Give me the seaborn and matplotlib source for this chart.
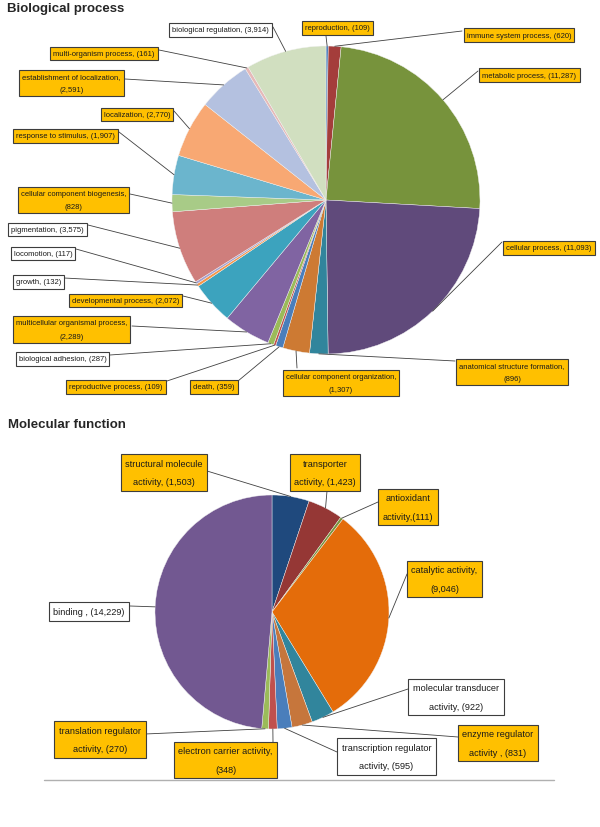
import numpy as np
import matplotlib
matplotlib.use("Agg")
import matplotlib.pyplot as plt
import seaborn as sns

sns.set_style("white")
plt.rcParams['font.family'] = ['Liberation Sans', 'DejaVu Sans']

W, H = 600, 828

# --- Biological process (clockwise from 12 o'clock) ---
bp_names = ["reproduction, ", "immune system process, ", "metabolic process, ",
            "cellular process, ", "anatomical structure formation,\n",
            "cellular component organization,\n", "death, ", "reproductive process, ",
            "biological adhesion, ", "multicellular organismal process,\n",
            "developmental process, ", "growth, ", "locomotion, ", "pigmentation, ",
            "cellular component biogenesis,\n", "response to stimulus, ", "localization, ",
            "establishment of localization,\n", "multi-organism process, ",
            "biological regulation, "]
bp_values = [109, 620, 11287, 11093, 896, 1307, 359, 109, 287, 2289,
             2072, 132, 117, 3575, 828, 1907, 2770, 2591, 161, 3914]
bp_colors = ["#4F81BD", "#A43D3B", "#77933C", "#604A7B", "#31859C",
             "#CD7A33", "#4A7EBB", "#C0504D", "#9BBB59", "#8064A2",
             "#3CA3BE", "#F79646", "#A5A0D0", "#CF7E7C", "#A8CB87",
             "#6BB5CD", "#F8A873", "#B4C1E0", "#E6B9B8", "#D1DFC0"]
bp_highlight = [1, 1, 1, 1, 1, 1, 1, 1, 0, 1, 1, 0, 0, 0, 1, 1, 1, 1, 1, 0]

# --- Molecular function (clockwise from 12 o'clock) ---
mf_names = ["structural molecule\nactivity, ", "transporter\nactivity, ",
            "antioxidant\nactivity,", "catalytic activity,\n",
            "molecular transducer\nactivity, ", "enzyme regulator\nactivity , ",
            "transcription regulator\nactivity, ", "electron carrier activity,\n",
            "translation regulator\nactivity, ", "binding , "]
mf_values = [1503, 1423, 111, 9046, 922, 831, 595, 348, 270, 14229]
mf_colors = ["#1F497D", "#953735", "#77933C", "#E46C0A", "#31859C",
             "#C6763C", "#4A7EBB", "#C0504D", "#9BBB59", "#725891"]
mf_highlight = [1, 1, 1, 1, 0, 1, 0, 1, 1, 0]

# label layout in pixels: box centre, leader anchor on the box
bp_boxes = [(337.5, 29), (519, 36), (529.5, 76), (549, 249), (512, 373),
            (341, 384), (214, 388), (116, 388), (62.5, 360), (71.5, 330.5),
            (125.5, 301.5), (38.5, 283), (43, 254.5), (47.5, 230.5), (73.5, 201),
            (65.5, 137), (137, 115.5), (71.5, 84), (104, 54.5), (220.5, 31)]
bp_anchors = [(326, 37), (462, 32), (478, 72), (502, 243), (455, 362),
              (297, 369), (238, 382), (167, 382), (110, 356), (132, 327),
              (183, 297), (64, 279), (76, 250), (88, 226), (130, 195),
              (119, 133), (174, 112), (125, 80), (159, 51), (273, 28)]
mf_boxes = [(164, 473.5), (325, 473.5), (408, 508), (444.5, 580), (456, 698),
            (498, 744), (386.5, 757.5), (225.5, 761), (100, 740.5), (89, 612.5)]
mf_anchors = [(207, 472), (327, 492), (378, 503), (407, 575), (408, 690),
              (458, 738), (337, 753), (273, 743), (145, 735), (130, 607)]

fig = plt.figure(figsize=(6, 8.28), dpi=100)
ax = fig.add_axes([0, 0, 1, 1])


def draw_pie(values, colors, names, highlight, boxes, anchors, center, radius, fs, ls, pad):
    wedges, _ = ax.pie(values, colors=colors, center=center, radius=radius,
                       startangle=-90, counterclock=True, frame=True,
                       wedgeprops=dict(edgecolor='#f2f2f2', linewidth=0.3))
    for w, name, v, hl, (bx, by), (axx, ayy) in zip(wedges, names, values, highlight, boxes, anchors):
        mid = np.deg2rad((w.theta1 + w.theta2) / 2)
        px = center[0] + radius * np.cos(mid)
        py = center[1] + radius * np.sin(mid)
        ax.plot([axx, px], [ayy, py], color='#404040', lw=0.6, zorder=3)
        ax.text(bx, by, f"{name}({v:,})", ha='center', va='center', fontsize=fs,
                color='#1a1a1a', multialignment='center', linespacing=ls, zorder=4,
                bbox=dict(boxstyle=f'square,pad={pad}',
                          fc='#FFC000' if hl else 'white', ec='#3d3d3d', lw=0.8))


draw_pie(bp_values, bp_colors, bp_names, bp_highlight, bp_boxes, bp_anchors,
         (326, 201), 154, 5.5, 2.3, 0.4)
draw_pie(mf_values, mf_colors, mf_names, mf_highlight, mf_boxes, mf_anchors,
         (272, 613), 117, 6.6, 2.4, 0.5)

ax.text(7, 9, "Biological process", fontsize=9.5, fontweight='bold', va='center', ha='left')
ax.text(8, 425, "Molecular function", fontsize=9.5, fontweight='bold', va='center', ha='left')
ax.plot([44, 554], [781, 781], color='#b0b0b0', lw=1)

ax.set_xlim(0, W)
ax.set_ylim(H, 0)
ax.set_aspect('equal')
ax.axis('off')

fig.savefig("out.png", dpi=100)
